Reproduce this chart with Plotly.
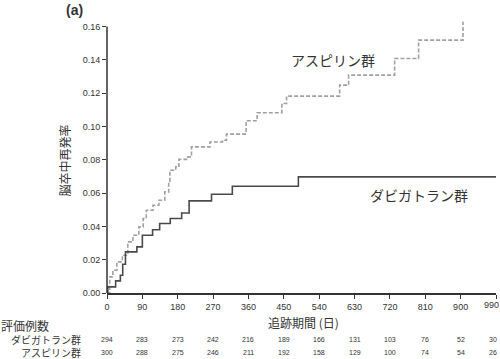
import plotly.graph_objects as go

# Dabigatran group: step times (days) and cumulative recurrence
dabi_days = [0, 2, 22, 34, 40, 47, 76, 90, 116, 134, 161, 190, 209, 266, 319, 487, 990]
dabi_vals = [0.0, 0.0037, 0.0073, 0.0107, 0.0173, 0.0247, 0.0277, 0.0347, 0.038, 0.0417,
             0.0447, 0.048, 0.0553, 0.0593, 0.0641, 0.0697, 0.0697]

# Aspirin group
asp_days = [0, 7, 15, 25, 39, 53, 66, 81, 92, 100, 117, 132, 147, 157, 160, 175, 183, 206,
            215, 262, 294, 304, 354, 382, 445, 457, 592, 615, 732, 793, 906]
asp_vals = [0.0, 0.0097, 0.0137, 0.0187, 0.0227, 0.0307, 0.0347, 0.0397, 0.0447, 0.0497,
            0.0527, 0.0557, 0.0607, 0.067, 0.0737, 0.0757, 0.0802, 0.0817, 0.0877, 0.0907,
            0.0917, 0.0954, 0.1034, 0.1082, 0.1138, 0.1182, 0.1248, 0.1308, 0.1408, 0.1518,
            0.1628]

x_ticks = [0, 90, 180, 270, 360, 450, 540, 630, 720, 810, 900, 990]
x_tick_text = ["0", "90", "180", "270", "360", "450", "540", "630", "720", "810", "900", ""]
y_ticks = [0.00, 0.02, 0.04, 0.06, 0.08, 0.10, 0.12, 0.14, 0.16]
y_tick_text = ["0.00", "0.02", "0.04", "0.06", "0.08", "0.10", "0.12", "0.14", "0.16"]

group_names = ["ダビガトラン群", "アスピリン群"]
risk_dabi = [294, 283, 273, 242, 216, 189, 166, 131, 103, 76, 52, 30]
risk_asp = [300, 288, 275, 246, 211, 192, 158, 129, 100, 74, 54, 26]

JP = "Noto Sans CJK JP"
LAT = "Liberation Sans, Arial"

fig = go.Figure()
fig.add_trace(go.Scatter(x=asp_days, y=asp_vals, mode="lines", line_shape="hv",
                         line=dict(color="#a0a0a0", width=1.6, dash="4px,2px"),
                         showlegend=False, hoverinfo="skip"))
fig.add_trace(go.Scatter(x=dabi_days, y=dabi_vals, mode="lines", line_shape="hv",
                         line=dict(color="#4a4a4a", width=1.6),
                         showlegend=False, hoverinfo="skip"))

fig.update_layout(
    width=500, height=359,
    margin=dict(l=107, r=4, t=19, b=66),
    plot_bgcolor="white", paper_bgcolor="white",
    xaxis=dict(range=[0, 990], tickvals=x_ticks, ticktext=x_tick_text, ticks="outside",
               ticklen=4, tickcolor="#333", tickwidth=1, showline=True, linecolor="#333",
               linewidth=1.5, showgrid=False, zeroline=False,
               tickfont=dict(family=LAT, size=9, color="#333")),
    yaxis=dict(range=[0, 0.1645], tickvals=y_ticks, ticktext=y_tick_text, ticks="outside",
               ticklen=4, tickcolor="#333", tickwidth=1, showline=False,
               showgrid=False, zeroline=False,
               tickfont=dict(family=LAT, size=9, color="#333")),
)

# y axis line only up to 0.16
fig.add_shape(type="line", xref="paper", yref="y", x0=0, x1=0, y0=0, y1=0.16,
              line=dict(color="#333", width=1.5))

def pa(text, x, y, size, xanchor="center", angle=0, family=JP, align="center"):
    fig.add_annotation(text=text, xref="paper", yref="paper", x=x, y=y,
                       xanchor=xanchor, yanchor="middle", showarrow=False, textangle=angle,
                       borderpad=0, borderwidth=0, align=align,
                       font=dict(family=family, size=size, color="#333"))

pa("<b>(a)</b>", -0.1045, 1.0325, 14, xanchor="left", family=LAT)
pa("脳卒中再発率", -0.1097, 0.485, 12, angle=-90)
pa("追跡期間 (日)", 0.506, -0.1066, 12)
# last x tick label, nudged left to stay inside the picture as in the reference
fig.add_annotation(text=str(x_ticks[-1]), x=x_ticks[-1], xref="x", yref="paper", y=-0.042,
                   xanchor="center", xshift=-5, yanchor="middle", showarrow=False,
                   font=dict(family=LAT, size=9, color="#333"))

fig.add_annotation(text="アスピリン群", x=575, y=0.1398, xref="x", yref="y", showarrow=False,
                   font=dict(family=JP, size=14, color="#333"))
fig.add_annotation(text="ダビガトラン群", x=793, y=0.0587, xref="x", yref="y", showarrow=False,
                   font=dict(family=JP, size=14, color="#333"))

# Risk table
row1_y, row2_y = -0.1715, -0.2186
pa("評価例数", -0.2726, -0.1176, 12, xanchor="left")
pa("<br>".join(group_names), -0.0657, (row1_y + row2_y) / 2, 10, xanchor="right", align="right")
for xv, a, b in zip(x_ticks, risk_dabi, risk_asp):
    for txt, yy in ((a, row1_y), (b, row2_y)):
        fig.add_annotation(text=str(txt), x=xv, xref="x", yref="paper", y=yy,
                           showarrow=False, yanchor="middle", borderpad=0, borderwidth=0,
                           xshift=-3 if xv == x_ticks[-1] else 0,
                           font=dict(family=LAT, size=7, color="#333"))

fig.write_html("out.html", post_script="document.body.style.margin='0';",
               config={"displayModeBar": False})
